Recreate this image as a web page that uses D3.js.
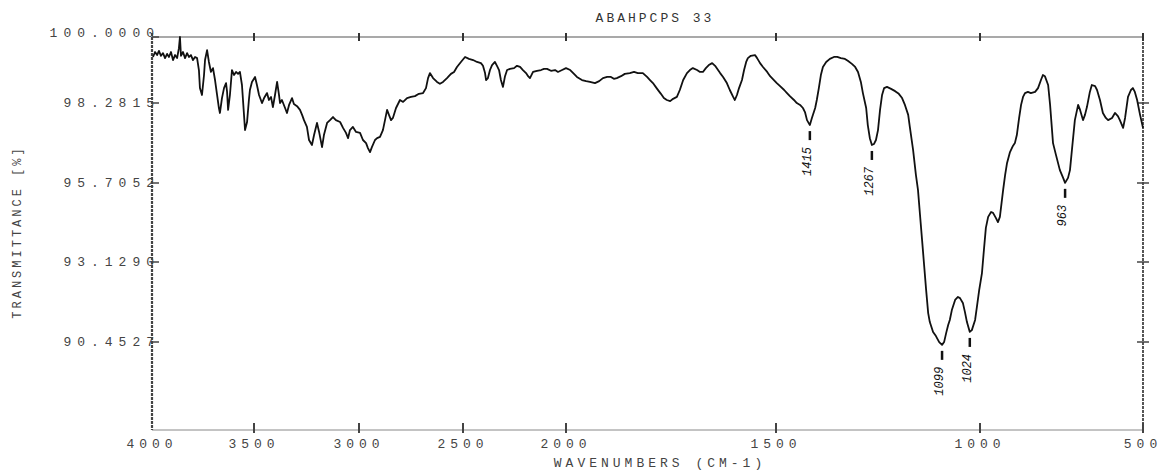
<!DOCTYPE html>
<html>
<head>
<meta charset="utf-8">
<script src="https://cdn.jsdelivr.net/npm/d3@7"></script>
<style>
body { margin: 0; background: #fff; }
svg text { font-family: "Liberation Mono", "DejaVu Sans Mono", monospace; }
</style>
</head>
<body>
<svg id="svg1" width="1161" height="472"></svg>
<script>
// spectrum (cm-1, %T)
var wavenumber = [3995,3985,3975,3966,3956,3946,3936,3926,3917,3907,3897,3887,3877,3868,3863,3858,3848,3838,3828,3819,3809,3799,3789,3779,3770,3765,3755,3745,3740,3730,3721,3711,3701,3691,3681,3672,3667,3657,3647,3637,3632,3627,3618,3608,3598,3588,3578,3569,3559,3544,3534,3525,3520,3510,
  3495,3486,3476,3462,3452,3438,3429,3419,3410,3400,3390,3381,3376,3367,3352,3343,3333,3319,3310,3295,3281,3271,3262,3248,3238,3224,3214,3200,3190,3176,3167,3152,3138,3124,3110,3090,3076,3062,3052,3043,3029,3014,
  2995,2981,2966,2957,2947,2938,2923,2913,2899,2885,2875,2865,2856,2846,2837,2822,2803,2788,2769,2750,2731,2712,2692,2678,2668,2659,2644,2625,2611,2596,2577,2558,2543,2529,2510,
  2490,2471,2451,2432,2413,2403,2393,2388,2379,2369,2359,2345,2335,2325,2316,2306,2296,2286,2272,2252,2238,2223,2209,2194,2184,2175,2160,2141,2121,2107,2092,2073,2053,2039,2019,2000,
  1990,1981,1974,1962,1952,1943,1931,1921,1912,1902,1893,1886,1879,1869,1860,1848,1838,1829,1817,1807,1800,1793,1783,1774,1767,1760,1752,1745,1736,1729,1721,1712,1705,1698,1688,1681,1674,1667,1660,1652,1645,1638,1633,1626,1617,1610,1602,1598,1593,1588,1581,1576,1571,1567,1560,1550,1545,1538,1531,1521,1514,1505,
  1498,1490,1480,1473,1466,1456,1449,1441,1434,1429,1424,1417,1412,1404,1400,1395,1390,1385,1377,1368,1358,1350,1341,1331,1324,1314,1306,1299,1292,1287,1279,1275,1270,1265,1260,1255,1250,1245,1240,1235,1228,1218,1208,1199,1191,1184,1176,1172,1164,1157,1152,1147,1142,1137,1132,1127,1123,1115,1108,1100,1093,1088,1083,1078,1074,1069,1061,1054,1049,1042,1037,1032,1025,1020,1012,1007,1002,
  994,988,982,975,966,960,951,945,939,929,923,917,908,899,893,887,880,874,868,862,853,844,831,822,813,807,801,791,785,776,767,755,745,739,730,724,718,709,699,693,684,678,672,663,657,647,641,632,623,614,607,595,586,577,571,561,555,546,537,531,525,518,509,500];

var transmittance = [99.48,99.61,99.53,99.64,99.51,99.58,99.45,99.56,99.48,99.61,99.40,99.53,99.45,99.71,100.00,99.51,99.61,99.45,99.58,99.48,99.53,99.40,99.48,99.45,99.14,98.67,98.49,99.01,99.40,99.66,99.35,99.09,99.19,98.88,98.49,98.12,97.96,98.41,98.67,98.80,98.57,98.06,98.49,99.14,99.01,99.09,99.04,99.09,98.75,97.41,97.67,98.36,98.62,98.83,
  98.96,98.75,98.49,98.28,98.41,98.54,98.36,98.44,98.15,98.49,98.83,98.49,98.28,98.36,98.12,97.96,98.22,98.41,98.25,98.18,98.06,97.90,97.73,97.51,97.09,96.93,97.25,97.64,97.35,96.86,97.25,97.64,97.73,97.83,97.73,97.67,97.48,97.32,97.15,97.41,97.51,97.35,
  97.32,97.09,96.99,96.83,96.70,96.86,97.09,97.15,97.19,97.41,97.73,98.06,97.90,97.73,97.80,98.12,98.36,98.31,98.41,98.44,98.46,98.52,98.54,98.67,98.93,99.06,98.93,98.83,98.78,98.83,98.93,99.04,99.09,99.22,99.35,
  99.48,99.43,99.40,99.35,99.32,99.25,99.06,98.88,98.93,99.14,99.27,99.35,99.25,99.14,98.88,98.70,98.98,99.14,99.17,99.19,99.25,99.22,99.14,99.06,98.98,98.93,99.09,99.12,99.14,99.17,99.17,99.12,99.14,99.09,99.14,99.19,
  99.14,99.04,98.96,98.88,98.85,98.83,98.80,98.85,98.93,98.96,98.96,98.91,98.93,98.98,99.04,99.06,99.09,99.06,99.06,98.96,98.88,98.80,98.65,98.52,98.41,98.36,98.33,98.39,98.44,98.62,98.88,99.06,99.14,99.19,99.14,99.09,99.09,99.19,99.27,99.32,99.25,99.14,99.06,98.96,98.80,98.62,98.44,98.36,98.49,98.67,98.88,99.14,99.35,99.45,99.51,99.53,99.45,99.32,99.22,99.09,98.98,98.88,
  98.80,98.72,98.62,98.54,98.46,98.36,98.28,98.22,98.12,97.99,97.73,97.57,97.80,98.12,98.36,98.67,99.01,99.22,99.35,99.43,99.48,99.48,99.45,99.43,99.38,99.30,99.22,99.09,98.83,98.54,98.12,97.57,97.15,96.93,96.96,97.09,97.41,98.06,98.49,98.67,98.70,98.65,98.59,98.52,98.41,98.22,97.90,97.51,96.77,95.96,95.48,94.66,93.85,93.03,92.19,91.42,91.12,90.79,90.65,90.45,90.36,90.45,90.75,91.02,91.19,91.52,91.86,91.96,91.92,91.76,91.46,91.12,90.79,90.85,91.19,91.69,92.19,
  92.76,93.52,94.24,94.60,94.76,94.73,94.56,94.43,94.60,95.48,95.96,96.35,96.70,96.90,96.99,97.25,97.80,98.22,98.44,98.54,98.57,98.54,98.57,98.67,98.88,99.01,98.98,98.75,98.22,96.99,96.61,96.12,95.87,95.71,95.87,96.12,96.77,97.73,98.22,98.06,97.73,97.90,98.15,98.57,98.75,98.72,98.62,98.36,97.96,97.80,97.73,97.80,97.96,97.86,97.73,97.48,97.80,98.44,98.62,98.67,98.57,98.36,97.90,97.48];

var xTicks = [4000, 3500, 3000, 2500, 2000, 1500, 1000, 500];
var xTickLabels = ["4000", "3500", "3000", "2500", "2000", "1500", "1000", "500"];
var yTicks = [100, 98.2815, 95.7052, 93.1290, 90.4527];
var yTickLabels = ["100.0000", "98.2815", "95.7052", "93.1290", "90.4527"];

// hand-marked peaks
var peakWn = [1417, 1265, 1093, 1025, 739];
var peakT = [97.57, 96.93, 90.36, 90.79, 95.71];
var peakLabels = ["1415", "1267", "1099", "1024", "963"];

var titleText = "ABAHPCPS 33";
var xTitle = "WAVENUMBERS (CM-1)";
var yTitle = "TRANSMITTANCE [%]";

var svg = d3.select('#svg1');

// chart paper has a scale change at 2000 and the scan is a bit stretched, so polylinear
var scaleX = d3.scaleLinear().domain(xTicks).range([152, 254, 359, 463, 566, 776, 980, 1143]);
var scaleY = d3.scaleLinear().domain([100, 98.2815, 95.7052, 93.1290, 90.4527, 87.6]).range([37, 103, 183, 262, 342, 430]);

var plotLeft = 152, plotRight = 1143, plotTop = 37, plotBottom = 430;

// frame
svg.append('line').attr('x1', plotLeft).attr('x2', plotRight).attr('y1', plotTop).attr('y2', plotTop)
    .attr('stroke', '#555').attr('stroke-width', 1.2);
svg.append('line').attr('x1', plotLeft).attr('x2', plotRight).attr('y1', plotBottom).attr('y2', plotBottom)
    .attr('stroke', '#888').attr('stroke-width', 1);
svg.append('line').attr('x1', plotLeft).attr('x2', plotLeft).attr('y1', plotTop - 4).attr('y2', plotBottom)
    .attr('stroke', '#444').attr('stroke-width', 2.2).attr('stroke-dasharray', '3,1');
svg.append('line').attr('x1', plotRight).attr('x2', plotRight).attr('y1', plotTop - 3).attr('y2', plotBottom)
    .attr('stroke', '#444').attr('stroke-width', 1.8).attr('stroke-dasharray', '3,1');

// x ticks top and bottom
svg.selectAll('.xt-top').data(xTicks.slice(1)).enter().append('line')
    .attr('x1', d => scaleX(d)).attr('x2', d => scaleX(d))
    .attr('y1', plotTop - 4).attr('y2', plotTop + 4)
    .attr('stroke', '#333').attr('stroke-width', 2);
svg.selectAll('.xt-bot').data(xTicks.slice(1)).enter().append('line')
    .attr('x1', d => scaleX(d)).attr('x2', d => scaleX(d))
    .attr('y1', plotBottom - 7).attr('y2', plotBottom + 3)
    .attr('stroke', '#444').attr('stroke-width', 2);

svg.selectAll('.xl').data(xTicks).enter().append('text')
    .attr('x', d => scaleX(d)).attr('y', 448)
    .attr('text-anchor', 'middle')
    .attr('font-size', 13).attr('letter-spacing', 5)
    .attr('fill', '#444')
    .text((d, i) => xTickLabels[i]);

// y ticks left and right
svg.selectAll('.yt').data(yTicks).enter().append('line')
    .attr('x1', plotLeft).attr('x2', plotLeft + 7)
    .attr('y1', d => scaleY(d)).attr('y2', d => scaleY(d))
    .attr('stroke', '#444').attr('stroke-width', 1.5);
svg.selectAll('.yt-r').data(yTicks.slice(1)).enter().append('line')
    .attr('x1', plotRight - 6).attr('x2', plotRight + 6)
    .attr('y1', d => scaleY(d)).attr('y2', d => scaleY(d))
    .attr('stroke', '#444').attr('stroke-width', 1.5);

svg.selectAll('.yl').data(yTicks).enter().append('text')
    .attr('x', 160).attr('y', (d, i) => scaleY(d) + (i === 0 ? 0 : 4))
    .attr('text-anchor', 'end')
    .attr('font-size', 13).attr('letter-spacing', 6)
    .attr('fill', '#444')
    .text((d, i) => yTickLabels[i]);

// titles
svg.append('text').attr('x', 655).attr('y', 22).attr('text-anchor', 'middle')
    .attr('font-size', 13).attr('letter-spacing', 3).attr('fill', '#333').text(titleText);
svg.append('text').attr('x', 660).attr('y', 467).attr('text-anchor', 'middle')
    .attr('font-size', 13).attr('letter-spacing', 4).attr('fill', '#444').text(xTitle);
svg.append('text').attr('transform', 'translate(21,232) rotate(-90)').attr('text-anchor', 'middle')
    .attr('font-size', 12).attr('letter-spacing', 3).attr('fill', '#444').text(yTitle);

// spectrum
var points = d3.zip(wavenumber, transmittance);
var line = d3.line().x(d => scaleX(d[0])).y(d => scaleY(d[1]));
svg.append('path').datum(points)
    .attr('d', line)
    .attr('fill', 'none').attr('stroke', '#111')
    .attr('stroke-width', 1.8).attr('stroke-linejoin', 'round');

// peak marks
var peaks = d3.zip(peakWn, peakT, peakLabels);
svg.selectAll('.pk').data(peaks).enter().append('line')
    .attr('x1', d => scaleX(d[0])).attr('x2', d => scaleX(d[0]))
    .attr('y1', d => scaleY(d[1]) + 6).attr('y2', d => scaleY(d[1]) + 15)
    .attr('stroke', '#111').attr('stroke-width', 2.5);
svg.selectAll('.pl').data(peaks).enter().append('text')
    .attr('transform', d => 'translate(' + (scaleX(d[0]) + 1) + ',' + (scaleY(d[1]) + 22) + ') rotate(-90)')
    .attr('text-anchor', 'end')
    .attr('font-family', 'DejaVu Sans')
    .attr('font-style', 'italic')
    .attr('font-size', 12).attr('fill', '#111')
    .text(d => d[2]);
</script>
</body>
</html>
